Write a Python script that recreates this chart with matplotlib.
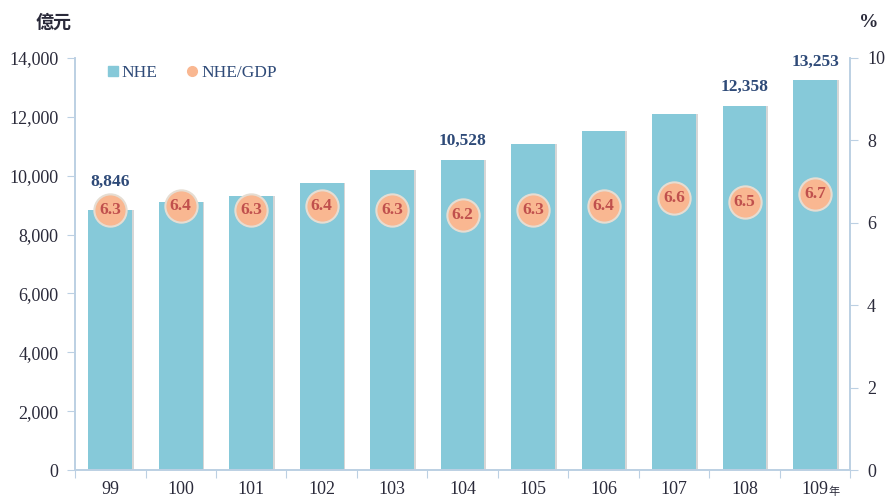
import matplotlib
matplotlib.use("Agg")
import matplotlib.pyplot as plt
import numpy as np
from matplotlib.lines import Line2D

categories = ["99", "100", "101", "102", "103", "104", "105", "106", "107", "108", "109"]
nhe = [8846, 9110, 9310, 9750, 10190, 10528, 11080, 11520, 12100, 12358, 13253]
ratio = [6.3, 6.4, 6.3, 6.4, 6.3, 6.2, 6.3, 6.4, 6.6, 6.5, 6.7]
labeled = {0: "8,846", 5: "10,528", 9: "12,358", 10: "13,253"}

serif = ["Liberation Serif", "Noto Sans CJK TC", "DejaVu Serif"]
plt.rcParams["font.family"] = serif

bar_color = "#86C9D9"
dot_color = "#F9B791"
axis_color = "#BCD0E3"
text_color = "#2A2A3A"

fig = plt.figure(figsize=(8.88, 4.99), dpi=100)
ax = fig.add_axes([0.0845, 0.058, 0.873, 0.826])
ax2 = ax.twinx()

x = np.arange(len(categories))
# shadow
ax.bar(x + 0.025, nhe, width=0.62, color="#BBBBBB", zorder=1, alpha=0.6)
ax.bar(x, nhe, width=0.62, color=bar_color, zorder=2, label="NHE")

ax.set_xlim(-0.5, len(categories) - 0.5)
ax.set_ylim(0, 14000)
ax.set_yticks(range(0, 14001, 2000))
ax.set_yticklabels([f"{v:,}" for v in range(0, 14001, 2000)])
ax2.set_ylim(0, 10)
ax2.set_yticks(range(0, 11, 2))

for a in (ax, ax2):
    a.spines["top"].set_visible(False)
    for s in ["left", "right", "bottom"]:
        a.spines[s].set_color(axis_color)
        a.spines[s].set_linewidth(1.2)

ax.set_xticks(np.arange(-0.5, len(categories), 1), minor=False)
ax.set_xticklabels([])
ax.set_xticks(x, minor=True)
ax.set_xticklabels(categories, minor=True)
ax.tick_params(axis="x", which="major", length=6, color=axis_color, direction="out")
ax.tick_params(axis="x", which="minor", length=0, pad=8, labelsize=13, labelcolor=text_color)
ax.tick_params(axis="y", length=6, color=axis_color, labelsize=13, labelcolor=text_color, pad=6)
ax2.tick_params(axis="y", length=6, color=axis_color, labelsize=13, labelcolor=text_color, pad=6)

# "年" suffix after last category
ax.annotate("年", xy=(10, 0), xycoords=("data", "axes fraction"), xytext=(10, -16),
            textcoords="offset points", fontsize=8, color=text_color,
            family=["Noto Sans CJK TC"], ha="left", va="center")

# bar value labels
offsets = {0: 20, 5: 14, 9: 14, 10: 13}
for i, t in labeled.items():
    ax.annotate(t, xy=(i, nhe[i]), xytext=(0, offsets[i]), textcoords="offset points",
                ha="center", va="center", fontsize=12.5, fontweight="bold", color="#2E4A78", zorder=5)

# ratio circles
ax2.scatter(x, ratio, s=540, color=dot_color, edgecolor="#E6DDD2", linewidth=1.5, zorder=4)
for i, r in enumerate(ratio):
    ax2.text(i, r, f"{r:.1f}", ha="center", va="center", fontsize=12.5, fontweight="bold",
             color="#C0504D", zorder=6)

# legend
handles = [Line2D([], [], marker="s", linestyle="", color=bar_color, markersize=7),
           Line2D([], [], marker="o", linestyle="", color=dot_color, markersize=7)]
ax.legend(handles, ["NHE", "NHE/GDP"], loc="upper left", bbox_to_anchor=(0.02, 1.02), ncol=2,
          frameon=False, fontsize=12.5, handletextpad=0.1, columnspacing=1.6,
          labelcolor="#2E4A78", handlelength=0.8)

fig.text(0.04, 0.955, "億元", fontsize=13, fontweight="bold", color=text_color,
         family=["Noto Sans CJK TC"], ha="left", va="center")
fig.text(0.978, 0.955, "%", fontsize=14, fontweight="bold", color=text_color, ha="center", va="center")

ax2.set_zorder(ax.get_zorder() + 1)
ax2.patch.set_visible(False)

fig.savefig("out.png", dpi=100)
